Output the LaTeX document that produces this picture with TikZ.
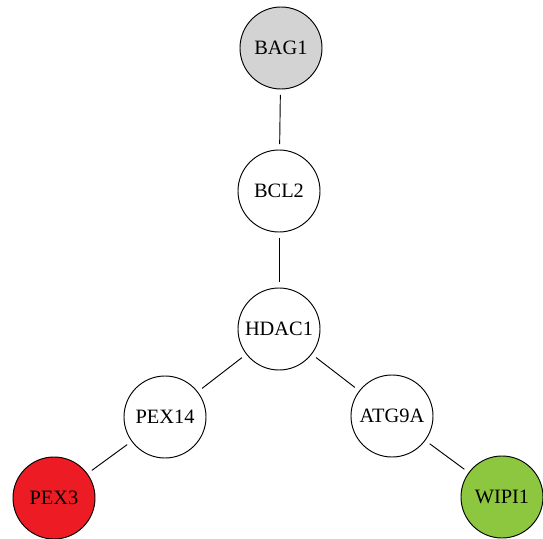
\documentclass[tikz,border=0pt]{standalone}
\usepackage{fontspec}
\setmainfont{Liberation Serif}
\definecolor{baggray}{RGB}{211,211,211}
\definecolor{pexred}{RGB}{237,28,36}
\definecolor{wipigreen}{RGB}{141,198,63}
\begin{document}
\begin{tikzpicture}[x=0.75pt,y=-0.75pt,
  gene/.style={circle,draw=black,line width=0.7pt,minimum size=61.5pt,inner sep=0pt,font=\fontsize{15.3}{17}\selectfont},
  link/.style={draw=black,line width=0.7pt,shorten >=4pt,shorten <=4pt}]
\useasboundingbox (0,0) rectangle (543,539);
\node[gene,fill=baggray] (bag1) at (281,48) {BAG1};
\node[gene,fill=white] (bcl2) at (279,191) {BCL2};
\node[gene,fill=white] (hdac1) at (279,329) {HDAC1};
\node[gene,fill=white] (pex14) at (165,417) {PEX14};
\node[gene,fill=white] (atg9a) at (392,416) {ATG9A};
\node[gene,fill=pexred] (pex3) at (54,498) {PEX3};
\node[gene,fill=wipigreen] (wipi1) at (502,497) {WIPI1};
\draw[link] (bag1) -- (bcl2);
\draw[link] (bcl2) -- (hdac1);
\draw[link] (hdac1) -- (pex14);
\draw[link] (hdac1) -- (atg9a);
\draw[link] (pex14) -- (pex3);
\draw[link] (atg9a) -- (wipi1);
\end{tikzpicture}
\end{document}
